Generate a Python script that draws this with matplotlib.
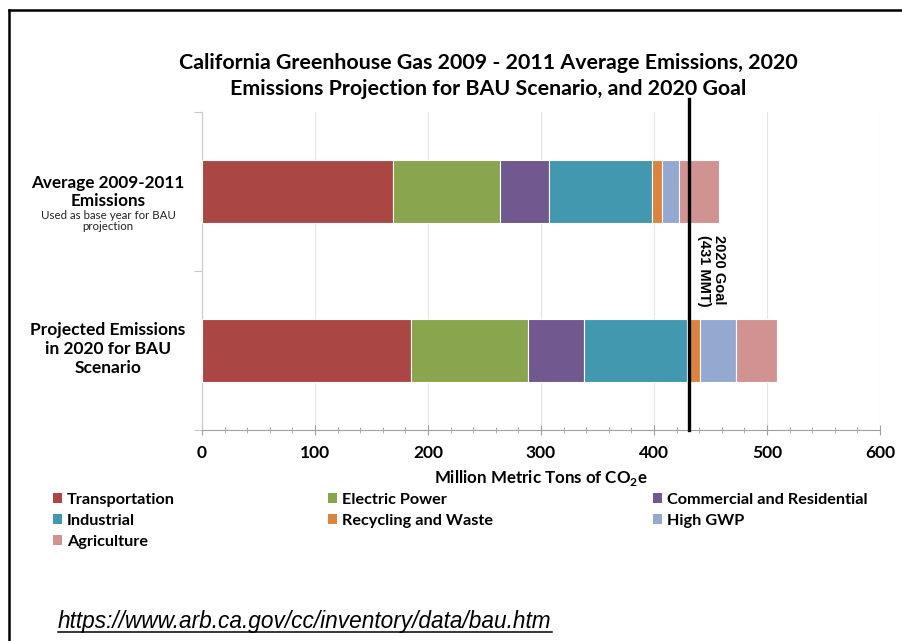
import numpy as np
import matplotlib
matplotlib.use("Agg")
import matplotlib.pyplot as plt
from matplotlib.lines import Line2D
from matplotlib.patches import Patch
from matplotlib.ticker import MultipleLocator

# values (million metric tons CO2e)
categories = ["Average 2009-2011", "Projected 2020 BAU"]
sectors = ["Transportation", "Electric Power", "Commercial and Residential",
           "Industrial", "Recycling and Waste", "High GWP", "Agriculture"]
transportation = [169, 185]
electric_power = [94.5, 103.5]
commercial_res = [43.5, 49.5]
industrial = [91, 91]
recycling = [9, 11.5]
high_gwp = [15, 32]
agriculture = [35.5, 36.5]
goal_2020 = 431
xticks = [0, 100, 200, 300, 400, 500, 600]

colors = ["#AA4643", "#89A54E", "#71588F", "#4198AF", "#DB843D", "#93A9CF", "#D19392"]
series = [transportation, electric_power, commercial_res, industrial,
          recycling, high_gwp, agriculture]

CAL = ["Lato", "DejaVu Sans"]

fig = plt.figure(figsize=(9.03, 6.41), dpi=100)
ax = fig.add_axes([202/903, 211/641, 678/903, 318/641])

y = np.arange(len(categories))
left = np.zeros(len(categories))
for vals, col, name in zip(series, colors, sectors):
    ax.barh(y, vals, left=left, height=0.4, color=col, edgecolor="white",
            linewidth=0.8, label=name, zorder=3)
    left += np.array(vals)

ax.set_xlim(0, 600)
ax.set_ylim(1.5, -0.5)
ax.set_xticks(xticks)
ax.xaxis.set_minor_locator(MultipleLocator(20))
ax.set_yticks([-0.5, 0.5, 1.5])
ax.set_yticklabels([])
ax.grid(axis="x", color="#E6E6E6", linewidth=0.8, zorder=0)
for s in ["top", "right"]:
    ax.spines[s].set_visible(False)
ax.spines["left"].set_color("#C8C8C8")
ax.spines["bottom"].set_color("#A0A0A0")
ax.tick_params(axis="x", which="major", direction="inout", length=7, color="#A0A0A0")
ax.tick_params(axis="x", which="minor", direction="inout", length=4, color="#A0A0A0")
ax.tick_params(axis="y", length=6, color="#C8C8C8")
for lab in ax.get_xticklabels():
    lab.set_fontfamily(CAL)
    lab.set_fontweight("bold")
    lab.set_fontsize(12.5)
ax.tick_params(axis="x", pad=7)

ax.set_xlabel("Million Metric Tons of CO$_\\mathregular{2}$e", fontfamily=CAL,
              fontweight="bold", fontsize=12.2, labelpad=5)

# goal line
ax.axvline(goal_2020, ymin=0, ymax=1.04, color="black", linewidth=2.4,
           clip_on=False, zorder=5)
ax.text(goal_2020 + 7, 0.5, "2020 Goal\n(431 MMT)", rotation=270,
        ha="left", va="center", fontfamily="Liberation Sans", fontweight="bold",
        fontsize=10.5, linespacing=1.1, zorder=6)

# category labels
lx = 108
fig.text(lx/903, 1 - 192/641, "Average 2009-2011\nEmissions", ha="center", va="center",
         fontfamily=CAL, fontweight="bold", fontsize=12.3, linespacing=1.2)
fig.text(lx/903, 1 - 221/641, "Used as base year for BAU\nprojection", ha="center",
         va="center", fontfamily=CAL, fontsize=8.3, linespacing=1.1, color="#222222")
fig.text(lx/903, 1 - 349/641, "Projected Emissions\nin 2020 for BAU\nScenario",
         ha="center", va="center", fontfamily=CAL, fontweight="bold", fontsize=12.5,
         linespacing=1.25)

# title
fig.text(488/903, 1 - 76/641,
         "California Greenhouse Gas 2009 - 2011 Average Emissions, 2020\n"
         "Emissions Projection for BAU Scenario, and 2020 Goal",
         ha="center", va="center", fontfamily=CAL, fontweight="bold", fontsize=15.4,
         linespacing=1.42)

# legend: one column per group so the column positions match the original
cols = [[0, 3, 6], [1, 4], [2, 5]]
col_x = [53, 328, 653]
for idx, cx in zip(cols, col_x):
    handles = [Patch(facecolor=colors[i]) for i in idx]
    labels = [sectors[i] for i in idx]
    leg = fig.legend(handles, labels, ncol=1, loc="upper left",
                     bbox_to_anchor=(cx/903, 1 - 493/641), frameon=False,
                     prop={"family": CAL, "weight": "bold", "size": 11.7},
                     handlelength=0.55, handleheight=0.55, handletextpad=0.3,
                     labelspacing=0.42, borderaxespad=0, borderpad=0)

# source url, italic and underlined
url = fig.text(58/903, 1 - 628/641, "https://www.arb.ca.gov/cc/inventory/data/bau.htm",
               ha="left", va="baseline", fontfamily="Liberation Sans", style="italic",
               fontsize=16.3)
fig.canvas.draw()
bb = url.get_window_extent().transformed(fig.transFigure.inverted())
fig.add_artist(Line2D([bb.x0, bb.x1], [bb.y0 + 0.002, bb.y0 + 0.002],
                      color="black", linewidth=1.1, transform=fig.transFigure))

# frame lines on left and top
fig.add_artist(Line2D([9/903, 9/903], [0, 1 - 10/641], color="black", linewidth=1.8,
                      transform=fig.transFigure))
fig.add_artist(Line2D([9/903, 1], [1 - 10/641, 1 - 10/641], color="black",
                      linewidth=1.8, transform=fig.transFigure))

fig.savefig("out.png", dpi=100)
